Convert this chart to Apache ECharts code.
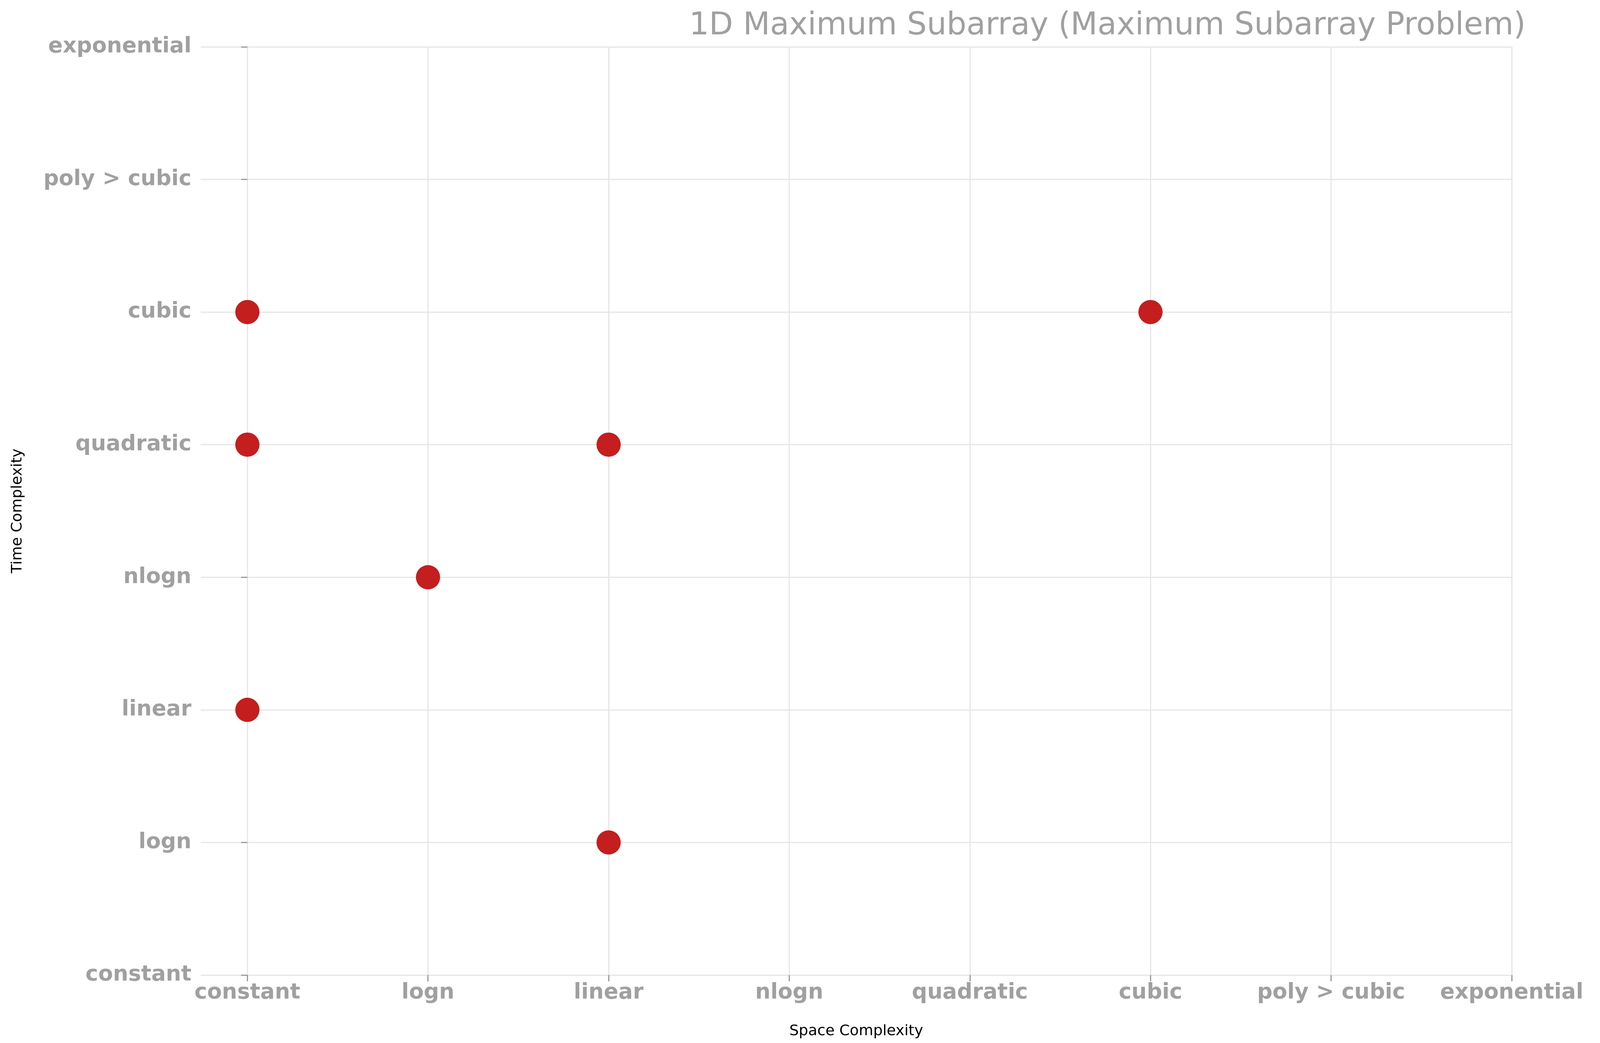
<!DOCTYPE html>
<html>
<head>
<meta charset="utf-8">
<script src="https://cdn.jsdelivr.net/npm/echarts@6/dist/echarts.min.js"></script>
<style>html,body{margin:0;padding:0;background:#fff;overflow:hidden}#chart{width:100vw;height:100vh}</style>
</head>
<body>
<div id="chart"></div>
<script>
// complexity classes, used on both axes
var levels = ['constant', 'logn', 'linear', 'nlogn', 'quadratic', 'cubic', 'poly > cubic', 'exponential'];
// algorithms as [space, time]
var spaceIdx = [0, 5, 0, 2, 1, 0, 2];
var timeIdx  = [5, 5, 4, 4, 3, 2, 1];

var points = [];
spaceIdx.forEach(function (s, i) {
    points.push([s, timeIdx[i]]);
});
var ticks = levels.map(function (l, i) { return i; });

var labelStyle = {
    color: '#a0a0a0', fontSize: 55, fontWeight: 'bold', fontFamily: 'DejaVu Sans',
    formatter: function (v) { return levels[Math.round(v)]; }
};

var chart = echarts.init(document.getElementById('chart'));
chart.setOption({
    animation: false,
    title: {
        text: '1D Maximum Subarray (Maximum Subarray Problem)',
        left: 2830, top: 22, textAlign: 'center',
        textStyle: { color: '#a0a0a0', fontSize: 80, fontWeight: 'normal', fontFamily: 'DejaVu Sans' }
    },
    grid: { left: 514, right: 226, top: 120, bottom: 174 },
    xAxis: {
        type: 'value', min: -0.258, max: 7,
        name: 'Space Complexity', nameLocation: 'middle', nameGap: 125,
        nameTextStyle: { color: '#000', fontSize: 38, fontFamily: 'DejaVu Sans' },
        axisLine: { show: false },
        axisTick: { show: true, customValues: ticks, length: 16, lineStyle: { color: '#999', width: 3 } },
        axisLabel: Object.assign({ customValues: ticks, margin: 18 }, labelStyle),
        splitLine: { show: true, lineStyle: { color: '#e6e6e6', width: 3 } }
    },
    yAxis: {
        type: 'value', min: 0, max: 7, interval: 1,
        name: 'Time Complexity', nameLocation: 'middle', nameGap: 450, nameRotate: 90,
        nameTextStyle: { color: '#000', fontSize: 38, fontFamily: 'DejaVu Sans' },
        axisLine: { show: false },
        axisTick: { show: true, length: 16, lineStyle: { color: '#999', width: 3 } },
        axisLabel: Object.assign({ margin: 24 }, labelStyle),
        splitLine: { show: true, lineStyle: { color: '#e6e6e6', width: 3 } }
    },
    series: [{
        type: 'scatter',
        data: points,
        symbolSize: 62,
        itemStyle: { color: '#c41e1e', opacity: 1 }
    }]
});
</script>
</body>
</html>
